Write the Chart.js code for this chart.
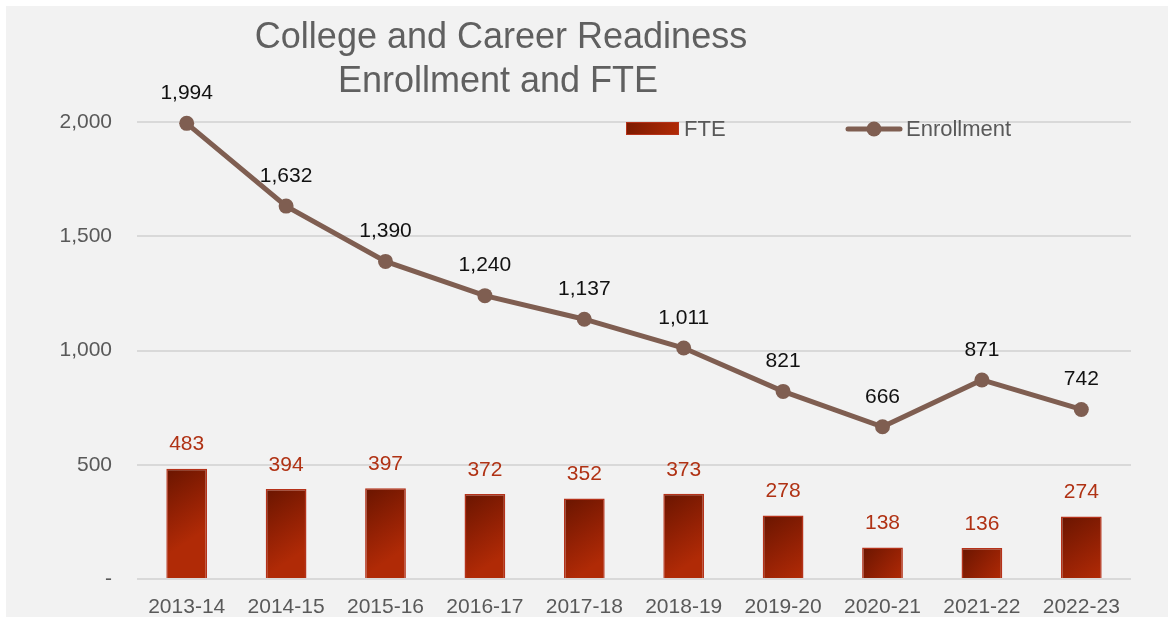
<!DOCTYPE html>
<html>
<head>
<meta charset="utf-8">
<script src="https://cdn.jsdelivr.net/npm/chart.js@4.4.1/dist/chart.umd.min.js"></script>
<style>
  html, body { margin: 0; padding: 0; background: #ffffff; }
  #wrap { position: absolute; left: 0; top: 0; width: 1168px; height: 617px; }
</style>
</head>
<body>
<div id="wrap"><canvas id="chart" width="1168" height="617"></canvas></div>
<script>
// chart data
const years = ["2013-14","2014-15","2015-16","2016-17","2017-18","2018-19","2019-20","2020-21","2021-22","2022-23"];
const fte = [483, 394, 397, 372, 352, 373, 278, 138, 136, 274];
const enrollment = [1994, 1632, 1390, 1240, 1137, 1011, 821, 666, 871, 742];
const yTicks = [0, 500, 1000, 1500, 2000];
const titleLines = ["College and Career Readiness", "Enrollment and FTE"];

const FONT = "'Liberation Sans', Arial, Helvetica, sans-serif";
const lineColor = "#7f5e51";
const barBorder = "#b5321a";

// gradient per bar, dark top-left to bright bottom-right
function barFill(ctx) {
  const chart = ctx.chart;
  if (!chart.chartArea || ctx.type !== "data") return "#9a2004";
  const xs = chart.scales.x, ys = chart.scales.y;
  const cx = xs.getPixelForValue(ctx.dataIndex);
  const half = xs.width / years.length * 0.41 / 2;
  const top = ys.getPixelForValue(ctx.raw);
  const bottom = ys.getPixelForValue(0);
  const g = chart.ctx.createLinearGradient(cx - half, top, cx + half, top + Math.min(bottom - top, 60));
  g.addColorStop(0, "#6a1500");
  g.addColorStop(0.6, "#952104");
  g.addColorStop(1, "#b02a06");
  return g;
}

const bgPlugin = {
  id: "bg",
  beforeDraw(chart) {
    const c = chart.ctx;
    c.save();
    c.fillStyle = "#f2f2f2";
    c.fillRect(6, 6, chart.width - 6, chart.height - 6);
    c.restore();
  }
};

const titlePlugin = {
  id: "titleText",
  afterDraw(chart) {
    const c = chart.ctx;
    c.save();
    c.fillStyle = "#606060";
    c.font = "36px " + FONT;
    c.textAlign = "center";
    c.textBaseline = "alphabetic";
    c.fillText(titleLines[0], 501, 48);
    c.fillText(titleLines[1], 498, 92);
    c.restore();
  }
};

const legendPlugin = {
  id: "legendBox",
  afterDraw(chart) {
    const c = chart.ctx;
    c.save();
    const g = c.createLinearGradient(626, 122, 679, 135);
    g.addColorStop(0, "#7a1a00");
    g.addColorStop(1, "#b22a06");
    c.fillStyle = g;
    c.fillRect(626, 122, 53, 13);
    c.strokeStyle = barBorder;
    c.lineWidth = 1;
    c.strokeRect(626.5, 122.5, 52, 12);
    c.strokeStyle = lineColor;
    c.lineWidth = 5;
    c.lineCap = "round";
    c.beginPath();
    c.moveTo(848, 129);
    c.lineTo(900, 129);
    c.stroke();
    c.fillStyle = lineColor;
    c.beginPath();
    c.arc(874, 129, 7.5, 0, Math.PI * 2);
    c.fill();
    c.fillStyle = "#595959";
    c.font = "22px " + FONT;
    c.textBaseline = "middle";
    c.textAlign = "left";
    c.fillText(chart.data.datasets[0].label, 684, 130);
    c.fillText(chart.data.datasets[1].label, 906, 130);
    c.restore();
  }
};

const labelPlugin = {
  id: "valueLabels",
  afterDatasetsDraw(chart) {
    const c = chart.ctx;
    c.save();
    c.font = "21px " + FONT;
    c.textAlign = "center";
    c.textBaseline = "middle";
    chart.data.datasets.forEach((ds, i) => {
      const meta = chart.getDatasetMeta(i);
      meta.data.forEach((el, j) => {
        const v = ds.data[j];
        if (ds.type === "bar") {
          c.fillStyle = "#b03214";
          c.fillText(v.toLocaleString("en-US"), el.x, el.y - 24);
        } else {
          c.fillStyle = "#111111";
          c.fillText(v.toLocaleString("en-US"), el.x, el.y - 30);
        }
      });
    });
    c.restore();
  }
};

new Chart(document.getElementById("chart"), {
  data: {
    labels: years,
    datasets: [{
      type: "bar",
      label: "FTE",
      data: fte,
      backgroundColor: barFill,
      borderColor: barBorder,
      borderWidth: 1.5,
      barPercentage: 0.41,
      categoryPercentage: 1,
      order: 2
    }, {
      type: "line",
      label: "Enrollment",
      data: enrollment,
      borderColor: lineColor,
      backgroundColor: lineColor,
      borderWidth: 5,
      pointRadius: 7.5,
      pointBackgroundColor: lineColor,
      pointBorderWidth: 0,
      tension: 0,
      clip: false,
      order: 1
    }]
  },
  options: {
    responsive: false,
    animation: false,
    layout: { padding: { top: 122, right: 37, left: 0, bottom: 0 } },
    plugins: {
      legend: { display: false },
      title: { display: false },
      tooltip: { enabled: false }
    },
    scales: {
      x: {
        grid: { display: false },
        border: { display: false },
        ticks: { color: "#595959", font: { family: FONT, size: 21 }, padding: 8, maxRotation: 0 },
        afterFit(s) { s.height = 38; }
      },
      y: {
        min: 0,
        max: 2000,
        afterBuildTicks(s) { s.ticks = yTicks.map(v => ({ value: v })); },
        grid: { color: "#d9d9d9", lineWidth: 2, drawTicks: false },
        border: { display: false },
        ticks: {
          color: "#595959",
          font: { family: FONT, size: 21 },
          padding: 25,
          callback: v => v === 0 ? "-" : v.toLocaleString("en-US")
        },
        afterFit(s) { s.width = 137; }
      }
    }
  },
  plugins: [bgPlugin, titlePlugin, legendPlugin, labelPlugin]
});
</script>
</body>
</html>
